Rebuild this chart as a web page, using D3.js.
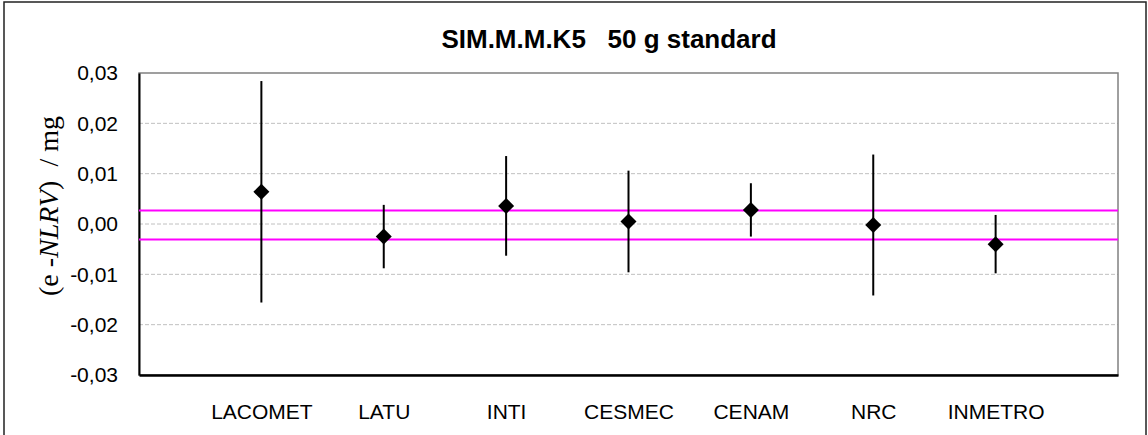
<!DOCTYPE html>
<html>
<head>
<meta charset="utf-8">
<script src="https://cdn.jsdelivr.net/npm/d3@7"></script>
<style>
  body { margin: 0; background: #fff; }
  svg { display: block; }
</style>
</head>
<body>
<svg id="chart"></svg>
<script>
// data
var categories = ['LACOMET', 'LATU', 'INTI', 'CESMEC', 'CENAM', 'NRC', 'INMETRO'];
var values = [0.0064, -0.0025, 0.0036, 0.0005, 0.0028, -0.0002, -0.0040];
var uncert = [0.0220, 0.0063, 0.0099, 0.0101, 0.0053, 0.0140, 0.0058];
var refLines = [0.0027, -0.0031];
var yTicks = [-0.03, -0.02, -0.01, 0, 0.01, 0.02, 0.03];

var width = 1148,
    height = 435,
    plotLeft = 139, plotRight = 1118,
    plotTop = 73, plotBottom = 375;

var svg = d3.select('#chart')
  .attr('width', width)
  .attr('height', height);

var data = categories.map(function(c, i){
  return {name: c, pos: i + 1, v: values[i], u: uncert[i]};
});

var xScale = d3.scaleLinear()
  .domain([0, categories.length + 1])
  .range([plotLeft, plotRight]);
var yScale = d3.scaleLinear()
  .domain([-0.03, 0.03])
  .range([plotBottom, plotTop]);

// outer chart border
svg.append('rect')
  .attr('x', 4).attr('y', 2)
  .attr('width', 1142).attr('height', 450)
  .attr('fill', 'none')
  .attr('stroke', '#222')
  .attr('stroke-width', 1.5);

// title
svg.append('text')
  .attr('x', 609)
  .attr('y', 48)
  .style('text-anchor', 'middle')
  .style('font-family', '"Liberation Sans", Arial, sans-serif')
  .style('font-weight', 'bold')
  .style('font-size', '26px')
  .text('SIM.M.M.K5\u00a0\u00a0 50 g standard');

// gridlines
svg.append('g')
  .selectAll('line')
  .data(yTicks.filter(d => d > -0.03 && d < 0.03))
  .enter()
  .append('line')
    .attr('x1', plotLeft).attr('x2', plotRight)
    .attr('y1', d => yScale(d)).attr('y2', d => yScale(d))
    .attr('stroke', '#c0c0c0')
    .attr('stroke-width', 1)
    .attr('stroke-dasharray', '4,2');

// plot area frame
svg.append('rect')
  .attr('x', plotLeft).attr('y', plotTop)
  .attr('width', plotRight - plotLeft).attr('height', plotBottom - plotTop)
  .attr('fill', 'none')
  .attr('stroke', '#808080')
  .attr('stroke-width', 1.5);

// y axis
var yAxis = d3.axisLeft(yScale)
  .tickValues(yTicks)
  .tickSize(0)
  .tickPadding(21)
  .tickFormat(d => d3.format('.2f')(d).replace('.', ',').replace('\u2212', '-'));

var gy = svg.append('g')
  .attr('transform', 'translate(' + plotLeft + ',0)')
  .call(yAxis);
gy.select('.domain').attr('stroke', '#000').attr('stroke-width', 2);
gy.selectAll('text')
  .style('font-family', '"Liberation Sans", Arial, sans-serif')
  .style('font-size', '21px')
  .attr('fill', '#000');

// x axis (category labels)
var xAxis = d3.axisBottom(xScale)
  .tickValues(data.map(d => d.pos))
  .tickSize(0)
  .tickPadding(29)
  .tickFormat((d, i) => categories[i]);

var gx = svg.append('g')
  .attr('transform', 'translate(0,' + plotBottom + ')')
  .call(xAxis);
gx.select('.domain').attr('stroke', '#000').attr('stroke-width', 2.5);
gx.selectAll('text')
  .style('font-family', '"Liberation Sans", Arial, sans-serif')
  .style('font-size', '21px')
  .attr('fill', '#000');

// y axis title
var ylab = svg.append('text')
  .attr('transform', 'translate(58,206) rotate(-90)')
  .style('text-anchor', 'middle')
  .style('font-family', '"Liberation Serif", "Times New Roman", serif')
  .style('font-size', '28px');
ylab.append('tspan').text('(e -');
ylab.append('tspan').style('font-style', 'italic').text('NLRV');
ylab.append('tspan').text(')\u00a0\u00a0/ mg');

// reference lines
svg.append('g')
  .selectAll('line')
  .data(refLines)
  .enter()
  .append('line')
    .attr('x1', plotLeft).attr('x2', plotRight)
    .attr('y1', d => yScale(d)).attr('y2', d => yScale(d))
    .attr('stroke', '#ff00ff')
    .attr('stroke-width', 2);

// error bars
svg.append('g')
  .selectAll('line')
  .data(data)
  .enter()
  .append('line')
    .attr('x1', d => xScale(d.pos)).attr('x2', d => xScale(d.pos))
    .attr('y1', d => yScale(d.v + d.u)).attr('y2', d => yScale(d.v - d.u))
    .attr('stroke', '#000')
    .attr('stroke-width', 2);

// diamonds
svg.append('g')
  .selectAll('path')
  .data(data)
  .enter()
  .append('path')
    .attr('d', d3.symbol(d3.symbolSquare, 128))
    .attr('transform', d => 'translate(' + xScale(d.pos) + ',' + yScale(d.v) + ') rotate(45)')
    .attr('fill', '#000');
</script>
</body>
</html>
